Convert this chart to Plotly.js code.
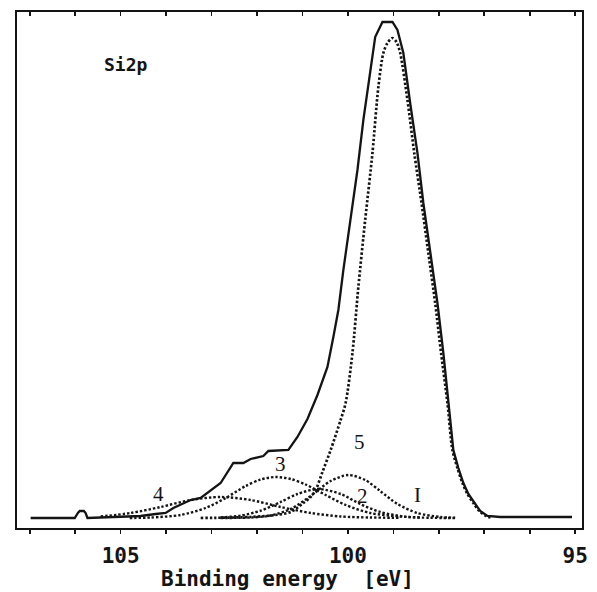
<!DOCTYPE html>
<html>
<head>
<meta charset="utf-8">
<script src="https://cdn.plot.ly/plotly-3.0.1.min.js"></script>
<style>html,body{margin:0;padding:0;background:#fff;}#chart{width:597px;height:592px;}</style>
</head>
<body>
<div id="chart"></div>
<script>
// Binding energy (eV) and intensity (arb. units above baseline)
const totalE = [106.98,106.01,105.94,105.90,105.81,105.77,105.73,105.22,104.56,104.23,104.01,103.84,103.46,103.24,103.09,102.80,102.52,102.30,102.14,101.86,101.75,101.31,101.11,100.89,100.67,100.45,100.32,100.21,100.10,99.95,99.79,99.66,99.51,99.40,99.24,99.02,98.91,98.78,98.63,98.47,98.34,98.19,98.03,97.90,97.79,97.68,97.57,97.46,97.35,97.22,97.09,96.93,96.65,95.07];
const totalI = [0,0,5,7,7,5,0,1,2,4,5,10,18,20,25,35,55,55,59,62,67,68,81,99,123,151,181,208,248,298,348,398,448,481,496,496,488,465,415,365,315,265,215,165,115,68,50,35,24,15,7,2,1,1];

const mainE = [103.24,102.14,101.59,101.26,100.98,100.82,100.71,100.56,100.38,100.16,100.05,99.90,99.77,99.62,99.46,99.33,99.22,99.13,99.02,98.93,98.85,98.69,98.54,98.38,98.23,98.08,97.95,97.81,97.70,97.59,97.48,97.37,97.24,97.11,96.96,96.82];
const mainI = [0,1,3,6,15,21,28,46,68,98,115,165,231,298,365,431,465,475,480,476,465,418,365,315,265,215,165,115,68,50,35,24,15,7,2,0];

const compAE = [102.80,102.14,101.70,101.26,100.82,100.38,99.99,99.62,99.29,98.91,98.47,97.97,97.64];
const compAI = [0,0.5,2.5,9,22,37,43,38,27,14,5,1,0.3];

const compBE = [102.80,102.36,101.92,101.48,101.11,100.65,100.16,99.73,99.29,98.74,98.19,97.65];
const compBI = [0.6,2.4,7.3,16,24,29,24,14,6,1.3,0.2,0];

const comp3E = [104.80,104.34,103.68,103.13,102.69,102.25,101.92,101.59,101.26,100.93,100.49,100.05,99.51,98.85,98.41];
const comp3I = [0,0.5,3,10,20,32,38.5,41,39,33.5,23,13,5,1.5,0.5];

const comp4E = [105.44,104.78,104.12,103.46,102.80,102.14,101.48,100.82,100.16,99.51,98.85];
const comp4I = [1.5,5,11,18,21,18,11,5,1.5,0.5,0.2];

const tickVals = [107,106,105,104,103,102,101,100,99,98,97,96,95];
const tickText = ['','','105','','','','','100','','','','','95'];

const labels = [
  {text:'4', x:104.16, y:24},
  {text:'3', x:101.48, y:54},
  {text:'5', x:99.75, y:76},
  {text:'2', x:99.68, y:22},
  {text:'I', x:98.47, y:23}
];

const ink = '#141414';
const dotStyle = (w) => ({color: ink, width: w, dash: '2.4px,2px', shape: 'spline', smoothing: 0.8});

const traces = [
  {x: comp4E, y: comp4I, mode: 'lines', line: dotStyle(2.4), hoverinfo: 'skip'},
  {x: comp3E, y: comp3I, mode: 'lines', line: dotStyle(2.4), hoverinfo: 'skip'},
  {x: compBE, y: compBI, mode: 'lines', line: dotStyle(2.4), hoverinfo: 'skip'},
  {x: compAE, y: compAI, mode: 'lines', line: dotStyle(2.4), hoverinfo: 'skip'},
  {x: mainE, y: mainI, mode: 'lines', line: dotStyle(2.7), hoverinfo: 'skip'},
  {x: totalE, y: totalI, mode: 'lines', line: {color: ink, width: 2.3, shape: 'linear'}, hoverinfo: 'skip'}
];

const annotations = labels.map(l => ({
  text: l.text, x: l.x, y: l.y, xref: 'x', yref: 'y', showarrow: false,
  xanchor: 'center', yanchor: 'middle',
  font: {family: 'Liberation Serif, DejaVu Serif, serif', size: 21, color: ink}
}));
annotations.push({
  text: 'Si2p', x: 104.89, y: 454, xref: 'x', yref: 'y', showarrow: false,
  xanchor: 'center', yanchor: 'middle',
  font: {family: 'DejaVu Sans Mono, monospace', size: 18, color: ink, weight: 'bold'}
});
annotations.push({
  text: 'Binding\u00a0energy\u00a0\u00a0[eV]', x: 0.478, y: -0.099, xref: 'paper', yref: 'paper',
  showarrow: false, xanchor: 'center', yanchor: 'middle',
  font: {family: 'DejaVu Sans Mono, monospace', size: 21, color: ink, weight: 'bold'}
});

const xr = [107.28, 94.85];
const layout = {
  width: 597, height: 592,
  margin: {l: 17, r: 15, t: 12, b: 64},
  paper_bgcolor: '#fff', plot_bgcolor: '#fff',
  showlegend: false,
  xaxis: {
    range: xr, tickmode: 'array', tickvals: tickVals, ticktext: tickText,
    ticks: 'outside', ticklen: 4, tickwidth: 1.6, tickcolor: ink,
    showline: true, linewidth: 2, linecolor: ink, mirror: true,
    showgrid: false, zeroline: false, ticklabelstandoff: 4,
    tickfont: {family: 'DejaVu Sans Mono, monospace', size: 21, color: ink, weight: 'bold'}
  },
  xaxis2: {
    range: xr, overlaying: 'x', side: 'top', anchor: 'y',
    tickmode: 'array', tickvals: tickVals, ticks: 'inside', ticklen: 4, tickwidth: 1.6, tickcolor: ink,
    showticklabels: false, showgrid: false, zeroline: false, showline: false
  },
  yaxis: {
    range: [-10, 506], showticklabels: false, ticks: '',
    showline: true, linewidth: 2, linecolor: ink, mirror: true,
    showgrid: false, zeroline: false
  },
  annotations: annotations
};

traces.push({x: [], y: [], xaxis: 'x2', yaxis: 'y', mode: 'lines', hoverinfo: 'skip'});

Plotly.newPlot('chart', traces, layout, {staticPlot: true, displayModeBar: false});
</script>
</body>
</html>
